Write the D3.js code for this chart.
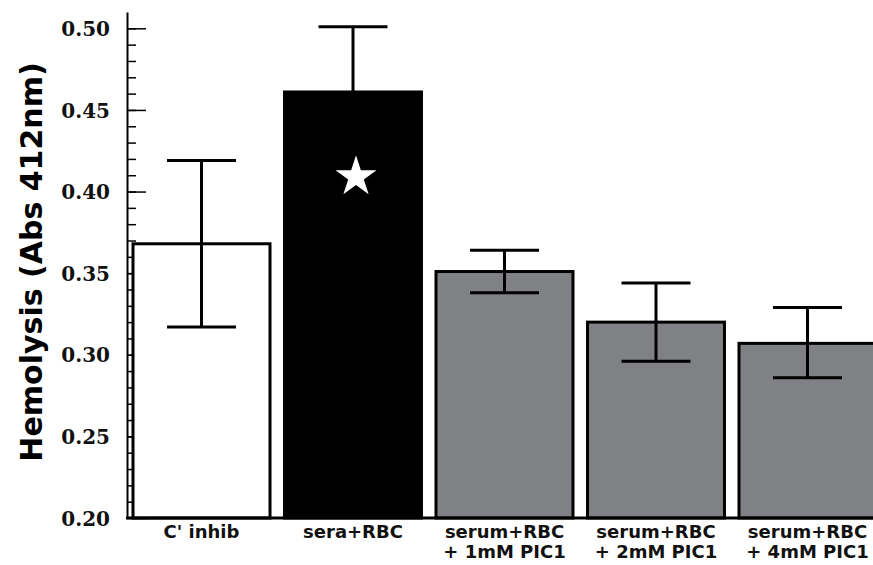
<!DOCTYPE html>
<html>
<head>
<meta charset="utf-8">
<script src="https://cdn.jsdelivr.net/npm/d3@7"></script>
<style>
  body { margin: 0; background: #fff; }
  text { font-family: "DejaVu Sans", Verdana, sans-serif; font-weight: bold; }
</style>
</head>
<body>
<script>
var categories = ["C' inhib", "sera+RBC", "serum+RBC|+ 1mM PIC1", "serum+RBC|+ 2mM PIC1", "serum+RBC|+ 4mM PIC1"];
var means = [0.368, 0.461, 0.351, 0.320, 0.307];
var errUp = [0.419, 0.501, 0.364, 0.344, 0.329];
var errLow = [0.317, 0.421, 0.338, 0.296, 0.286];
var fills = ["#ffffff", "#000000", "#808184", "#808184", "#808184"];
var majorTicks = [0.20, 0.25, 0.30, 0.35, 0.40, 0.45, 0.50];
var minorTicks = d3.range(21, 51).map(function (d) { return d / 100; });

var W = 873, H = 565;
var svg = d3.select('body').append('svg').attr('width', W).attr('height', H);

var y = d3.scaleLinear().domain([0.20, 0.51]).range([518, 12]);
var x = d3.scaleBand().domain(categories).range([125.75, 883.25])
  .paddingInner(0.0957).paddingOuter(0.0479);

// minor ticks
svg.append('g').attr('transform', 'translate(127,0)')
  .call(d3.axisLeft(y).tickValues(minorTicks).tickSizeInner(-9).tickSizeOuter(0).tickFormat(''))
  .call(function (g) { g.select('.domain').remove(); g.selectAll('line').attr('stroke-width', 1.5); });

// major ticks + labels
var yAxis = svg.append('g').attr('transform', 'translate(127,0)')
  .call(d3.axisLeft(y).tickValues(majorTicks).tickSizeInner(-19).tickSizeOuter(0).tickPadding(17)
    .tickFormat(d3.format('.2f')));
yAxis.selectAll('line').attr('stroke-width', 1.5);
yAxis.select('.domain').attr('stroke-width', 2);
yAxis.selectAll('text')
  .style('font-family', '"DejaVu Serif", serif')
  .style('font-weight', 'bold')
  .style('font-size', '20px')
  .attr('fill', '#111').attr('dy', '0.36em');

// bars
svg.selectAll('rect.bar').data(categories).enter().append('rect')
  .attr('class', 'bar')
  .attr('x', function (d) { return x(d); })
  .attr('width', x.bandwidth())
  .attr('y', function (d, i) { return y(means[i]); })
  .attr('height', function (d, i) { return y(0.20) - y(means[i]); })
  .attr('fill', function (d, i) { return fills[i]; })
  .attr('stroke', '#000')
  .attr('stroke-width', 3);

// x axis line
svg.append('line').attr('x1', 126).attr('x2', W).attr('y1', 518).attr('y2', 518)
  .attr('stroke', '#000').attr('stroke-width', 3);

// error bars
var capW = 69;
var eb = svg.selectAll('g.err').data(categories).enter().append('g').attr('class', 'err')
  .attr('transform', function (d) { return 'translate(' + (x(d) + x.bandwidth() / 2) + ',0)'; });
eb.append('line').attr('x1', 0).attr('x2', 0)
  .attr('y1', function (d, i) { return y(errUp[i]); })
  .attr('y2', function (d, i) { return y(errLow[i]); })
  .attr('stroke', '#000').attr('stroke-width', 3);
eb.append('line').attr('x1', -capW / 2).attr('x2', capW / 2)
  .attr('y1', function (d, i) { return y(errUp[i]); })
  .attr('y2', function (d, i) { return y(errUp[i]); })
  .attr('stroke', '#000').attr('stroke-width', 3);
eb.append('line').attr('x1', -capW / 2).attr('x2', capW / 2)
  .attr('y1', function (d, i) { return y(errLow[i]); })
  .attr('y2', function (d, i) { return y(errLow[i]); })
  .attr('stroke', '#000').attr('stroke-width', 3);

// significance star on sera+RBC
svg.append('path')
  .attr('d', d3.symbol().type(d3.symbolStar).size(520)())
  .attr('fill', '#fff')
  .attr('transform', 'translate(' + (x(categories[1]) + x.bandwidth() / 2 + 3) + ',' + y(0.409) + ')');

// category labels
var lbl = svg.selectAll('text.cat').data(categories).enter().append('text')
  .attr('class', 'cat')
  .attr('text-anchor', 'middle')
  .style('font-size', '18px')
  .attr('fill', '#111')
  .attr('transform', function (d) { return 'translate(' + (x(d) + x.bandwidth() / 2) + ',538)'; });
lbl.selectAll('tspan').data(function (d) { return d.split('|'); }).enter().append('tspan')
  .attr('x', 0)
  .attr('dy', function (d, i) { return i === 0 ? 0 : 20; })
  .text(function (d) { return d; });

// y title
svg.append('text')
  .attr('transform', 'translate(42,262) rotate(-90)')
  .attr('text-anchor', 'middle')
  .style('font-size', '30px')
  .attr('fill', '#000')
  .text('Hemolysis (Abs 412nm)');
</script>
</body>
</html>
